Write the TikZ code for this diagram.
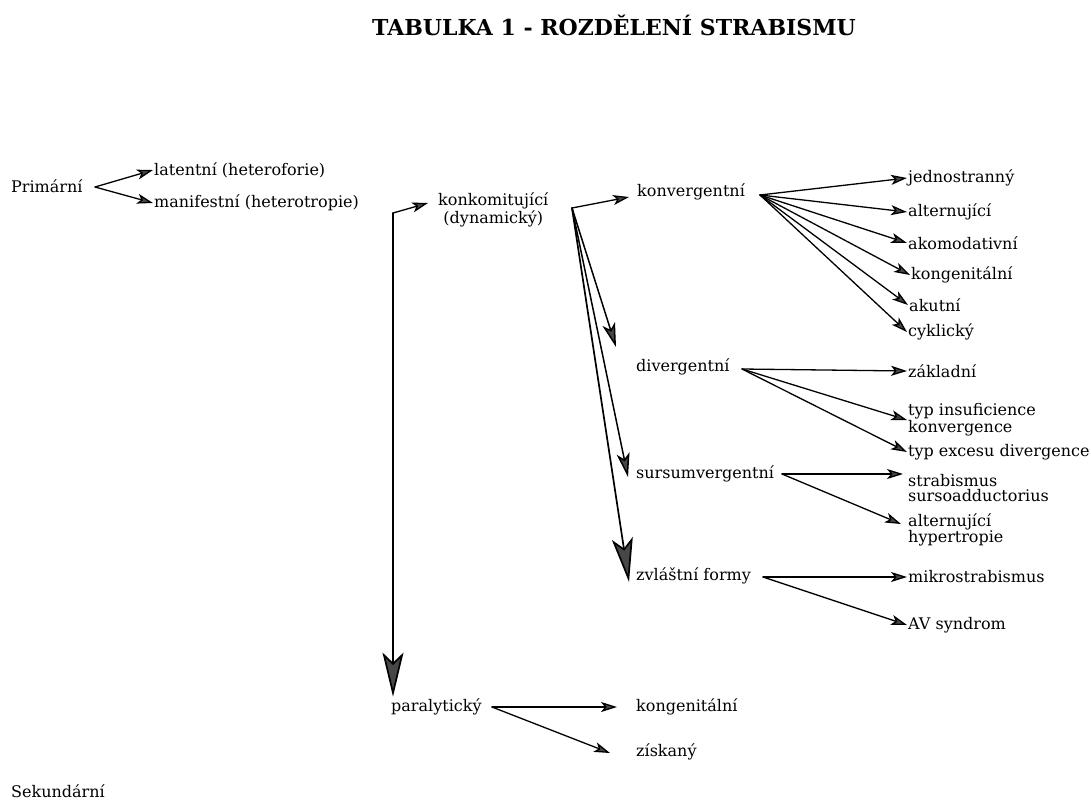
\documentclass[tikz,border=0pt]{standalone}
\usepackage{fontspec}
\setmainfont{DejaVu Serif}
\usetikzlibrary{arrows.meta}
\definecolor{headgray}{rgb}{0.28,0.28,0.28}

\tikzset{
  lbl/.style={anchor=west,inner sep=1pt,align=left,font=\fontsize{16}{15}\selectfont},
  arr/.style={-{Stealth[length=16pt,width=10pt,inset=4pt,fill=headgray]},line width=1.3pt},
  midarr/.style={-{Stealth[length=24pt,width=13pt,inset=6pt,fill=headgray]},line width=1.5pt},
  bigarr/.style={-{Stealth[length=44pt,width=21pt,inset=10pt,fill=headgray]},line width=1.7pt}
}

\begin{document}
\begin{tikzpicture}[line cap=round,line join=round,x=1pt,y=-1pt]
\useasboundingbox (0,0) rectangle (1091,801);
\node[font=\fontsize{22}{24}\selectfont\bfseries] (title) at (614,25) {TABULKA 1 - ROZDĚLENÍ STRABISMU};
% levy sloupec
\node[lbl] (prim) at (10,186) {Primární};
\node[lbl] (lat) at (153,170) {latentní (heteroforie)};
\node[lbl] (man) at (153,203) {manifestní (heterotropie)};
\node[lbl,align=center] (konk) at (437,210) {konkomitující\\(dynamický)};
\node[lbl] (para) at (390,707) {paralytický};
\node[lbl] (sek) at (10,791) {Sekundární};
% prostredni sloupec
\node[lbl] (konv) at (636,192) {konvergentní};
\node[lbl] (div) at (635,367) {divergentní};
\node[lbl] (surs) at (635,474) {sursumvergentní};
\node[lbl] (zvl) at (635,576) {zvláštní formy};
\node[lbl] (kong2) at (635,707) {kongenitální};
\node[lbl] (ziska) at (635,752) {získaný};
% pravy sloupec
\node[lbl] (jedn) at (907,178) {jednostranný};
\node[lbl] (alt1) at (907,212) {alternující};
\node[lbl] (akom) at (907,243) {akomodativní};
\node[lbl] (kong1) at (910,275) {kongenitální};
\node[lbl] (akut) at (908,305) {akutní};
\node[lbl] (cykl) at (907,332) {cyklický};
\node[lbl] (zakl) at (907,371) {základní};
\node[lbl] (insuf) at (907,420) {typ insuficience\\konvergence};
\node[lbl] (exces) at (907,452) {typ excesu divergence};
\node[lbl] (strab) at (907,488) {strabismus\\sursoadductorius};
\node[lbl] (althyp) at (907,530) {alternující\\hypertropie};
\node[lbl] (mikro) at (907,577) {mikrostrabismus};
\node[lbl] (avs) at (907,625) {AV syndrom};
% vychozi body vejiru
\coordinate (primfan) at (95,187);
\coordinate (corner) at (393,213);
\coordinate (konkfan) at (572,208);
\coordinate (konvfan) at (760,195);
\coordinate (divfan) at (742,369);
\coordinate (sursfan) at (782,474);
\coordinate (zvlfan) at (763,577);
\coordinate (parafan) at (492,707);
% sipky
\draw[arr] (primfan) -- (lat.west);
\draw[arr] (primfan) -- (man.west);
\draw[arr] (corner) -- ([shift={(-9,-7)}]konk.west);
\draw[bigarr] (corner) -- ([shift={(3,-1)}]para.north west);
\draw[arr] (konkfan) -- ([shift={(-7,5)}]konv.west);
\draw[midarr] (konkfan) -- ([shift={(-19,-20)}]div.west);
\draw[midarr] (konkfan) -- ([shift={(-7,3)}]surs.west);
\draw[bigarr] (konkfan) -- ([shift={(-6,6)}]zvl.west);
\foreach \n in {jedn,alt1,akom,kong1,akut,cykl}
  \draw[arr] (konvfan) -- (\n.west);
\draw[arr] (divfan) -- (zakl.west);
\draw[arr] (divfan) -- (insuf.west);
\draw[arr] (divfan) -- (exces.west);
\draw[arr] (sursfan) -- ([shift={(-4,-14)}]strab.west);
\draw[arr] (sursfan) -- ([shift={(-6,-6)}]althyp.west);
\draw[arr] (zvlfan) -- (mikro.west);
\draw[arr] (zvlfan) -- (avs.west);
\draw[arr] (parafan) -- ([shift={(-18,0)}]kong2.west);
\draw[arr] (parafan) -- ([shift={(-25,1)}]ziska.west);
\end{tikzpicture}
\end{document}
